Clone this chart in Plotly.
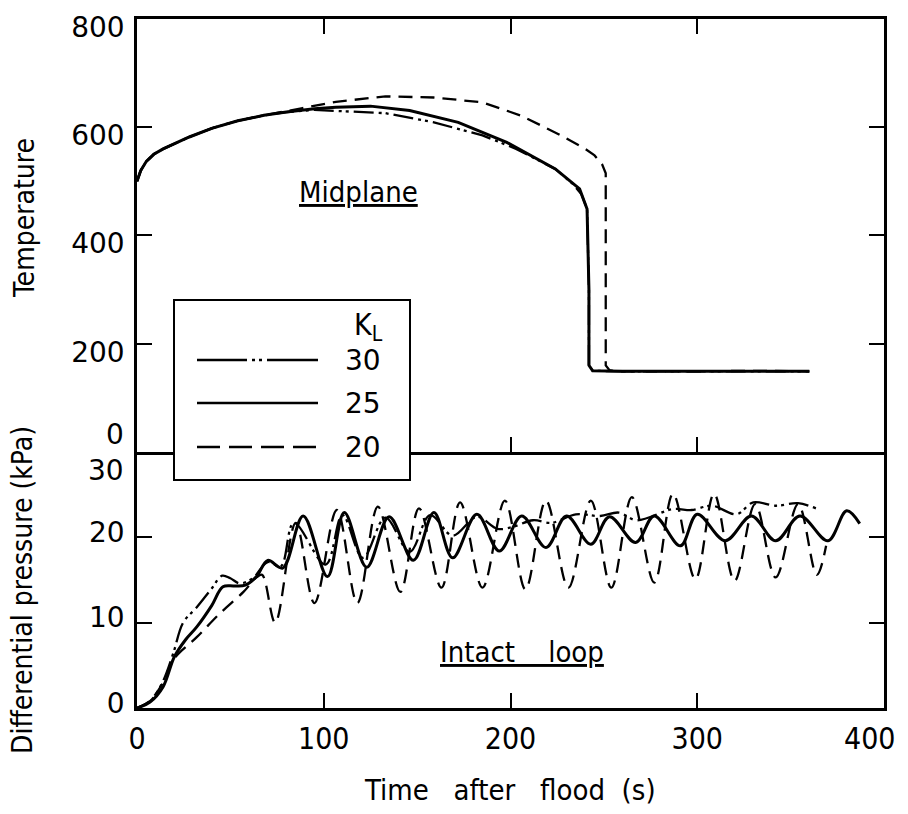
import plotly.graph_objects as go
from plotly.subplots import make_subplots

# ---- Midplane temperature after flood, per loss coefficient K_L ----
temp_t_30 = [0, 2, 5, 9, 14, 20, 28, 40, 54, 68, 80, 95, 114, 133, 159, 185, 203, 224, 233.5, 238, 241, 242, 242, 244, 260, 300, 330, 360]
temp_v_30 = [500, 520, 537, 550, 560, 569, 582, 598, 612, 622, 628, 632, 629, 626, 609, 585, 560, 523, 495, 476, 449, 300, 160, 150, 149, 149, 150, 149]

temp_t_25 = [0, 2, 5, 9, 14, 20, 28, 40, 54, 68, 80, 95, 106.5, 125, 146, 172, 198, 224, 237, 241, 242, 242, 244, 260, 300, 330, 360]
temp_v_25 = [500, 520, 537, 550, 560, 569, 582, 598, 612, 622, 628, 634, 637, 639, 631, 609, 572, 523, 486, 449, 300, 160, 150, 149, 149, 150, 149]

temp_t_20 = [0, 2, 5, 9, 14, 20, 28, 40, 54, 68, 80, 88, 106.5, 133, 159, 185, 206, 227, 240, 245, 249, 251, 251, 251, 253, 256, 300, 330, 360]
temp_v_20 = [500, 520, 537, 550, 560, 569, 582, 598, 612, 622, 629, 635, 647, 657, 655, 646, 621, 585, 560, 548, 532, 515, 300, 160, 151, 149, 149, 150, 149]

# ---- Intact-loop differential pressure (kPa), per K_L ----
dp_t_30 = [0, 7, 13.4, 19.4, 24.7, 32, 40, 45.6, 50, 55, 62, 70, 77, 84, 101, 110, 121, 133, 146, 157, 169, 182, 193, 201, 212, 222, 235, 248, 258, 267.5, 287, 297, 308, 321, 330, 342, 354, 364.6]
dp_v_30 = [0, 0.8, 2.9, 6.4, 10.0, 11.8, 14.0, 15.5, 15.2, 14.6, 15.2, 17.1, 16.6, 21.7, 16.8, 22.6, 17.6, 22.3, 18.3, 22.6, 20.2, 22.4, 21.0, 21.2, 22.0, 21.7, 22.7, 22.5, 22.9, 22.0, 23.3, 23.2, 23.7, 22.7, 24.1, 23.7, 24.0, 23.3]

dp_t_25 = [0, 7, 14, 20, 26, 32, 40, 46, 52, 58, 64, 70, 78, 89, 102, 111, 123, 135, 148, 159, 169, 182, 194, 206, 219, 230, 243, 253, 267, 277, 291, 300, 315, 329, 342, 355, 370, 380, 387]
dp_v_25 = [0, 0.7, 2.5, 6.0, 8.0, 9.5, 12.0, 14.2, 14.3, 14.4, 15.4, 17.3, 16.4, 22.5, 15.4, 22.9, 16.5, 22.4, 17.3, 22.9, 17.6, 22.7, 18.4, 22.5, 18.8, 22.5, 19.2, 22.4, 19.4, 22.5, 19.0, 22.7, 19.6, 22.5, 19.6, 22.5, 19.6, 23.1, 21.6]

dp_t_20 = [0, 4, 8, 14, 20, 32, 44.5, 57, 64, 67, 74, 85, 95, 107, 118, 129, 141, 151, 163, 173, 185, 197, 208, 219, 231, 243, 254, 265, 277, 287, 299, 309, 320, 331, 342, 354, 364, 369]
dp_v_20 = [0, 0.4, 1.1, 3.0, 5.8, 8.3, 11.1, 13.6, 15.3, 15.6, 10.0, 21.7, 12.3, 23.2, 12.3, 23.6, 13.6, 23.4, 14.1, 24.1, 14.1, 24.3, 13.9, 24.3, 14.1, 24.3, 14.1, 24.7, 14.7, 25.1, 15.1, 25.1, 14.9, 23.9, 15.3, 23.9, 15.6, 19.0]

kl_labels = ["30", "25", "20"]
temp_ticks = [200, 400, 600, 800]
dp_ticks = [0, 10, 20]
time_ticks = [0, 100, 200, 300]
time_end = 400

NARROW = "Liberation Sans Narrow, DejaVu Sans Condensed, sans-serif"
ROUND = "DejaVu Sans, sans-serif"

DASHDOT = "20px,5px,3px,4px,3px,5px"
DASHED = "14px,8px"

fig = make_subplots(rows=2, cols=1, shared_xaxes=True, vertical_spacing=0)

styles = {"30": dict(width=2.3, dash=DASHDOT), "25": dict(width=3, dash="solid"), "20": dict(width=2.3, dash=DASHED)}

temp_series = {"30": (temp_t_30, temp_v_30), "25": (temp_t_25, temp_v_25), "20": (temp_t_20, temp_v_20)}
dp_series = {"30": (dp_t_30, dp_v_30), "25": (dp_t_25, dp_v_25), "20": (dp_t_20, dp_v_20)}

for k in kl_labels:
    t, v = temp_series[k]
    fig.add_trace(go.Scatter(x=t, y=v, mode="lines", showlegend=False,
                             line=dict(color="black", **styles[k])), row=1, col=1)
for k in kl_labels:
    t, v = dp_series[k]
    fig.add_trace(go.Scatter(x=t, y=v, mode="lines", showlegend=False,
                             line=dict(color="black", shape="spline", smoothing=1.0, **styles[k])),
                  row=2, col=1)

axis_common = dict(showline=True, linecolor="black", linewidth=2.5, ticks="inside",
                   ticklen=15, tickwidth=2, tickcolor="black", showgrid=False, zeroline=False,
                   automargin=False, ticklabeloverflow="allow")

SPLIT = 0.3716
XRANGE = [0, time_end]

fig.update_layout(
    width=908, height=814,
    margin=dict(l=137, r=24, t=19, b=106),
    paper_bgcolor="white", plot_bgcolor="white",
    xaxis=dict(range=XRANGE, tickvals=[100, 200, 300], showticklabels=False,
               mirror="ticks", **axis_common),
    xaxis2=dict(range=XRANGE, tickvals=time_ticks, ticktext=[str(v) for v in time_ticks],
                mirror=False, ticklabelstandoff=2,
                tickfont=dict(family=NARROW, size=30, color="black"), **axis_common),
    yaxis=dict(range=[0, 800], domain=[SPLIT, 1], tickvals=temp_ticks,
               ticktext=[str(v) for v in temp_ticks], mirror="ticks", ticklabelstandoff=4,
               ticklabelshift=8,
               tickfont=dict(family=ROUND, size=28, color="black"), **axis_common),
    yaxis2=dict(range=[0, 30], domain=[0, SPLIT], tickvals=dp_ticks,
                ticktext=[str(v) for v in dp_ticks], mirror="ticks", ticklabelstandoff=4,
                ticklabelshift=-5,
                tickfont=dict(family=ROUND, size=28, color="black"), **axis_common),
)


def px(x):
    return (x - 137) / 747


def py(y):
    return (708 - y) / 689


def note(text, x, y, size, family=NARROW, **extra):
    return dict(text=text, x=x, y=y, xref="paper", yref="paper", xanchor="center",
                yanchor="middle", showarrow=False,
                font=dict(family=family, size=size, color="black"), **extra)


annotations = [
    # zero of the temperature scale and top of the pressure scale share the split line
    dict(text="0", x=0, y=SPLIT, xref="paper", yref="paper", xanchor="right", yanchor="middle",
         xshift=-11, yshift=17, showarrow=False, font=dict(family=ROUND, size=28, color="black")),
    dict(text="30", x=0, y=SPLIT, xref="paper", yref="paper", xanchor="right", yanchor="middle",
         xshift=-11, yshift=-19, showarrow=False, font=dict(family=ROUND, size=28, color="black")),
    # end-of-scale time label, tucked inside the right edge
    dict(text=str(time_end), x=time_end, y=py(738), xref="x2", yref="paper", xanchor="right",
         yanchor="middle", xshift=14, showarrow=False,
         font=dict(family=NARROW, size=30, color="black")),
    note("Temperature", px(24), py(218), 28, textangle=-90),
    note("Differential pressure (kPa)", px(22), py(590), 28, textangle=-90),
    note("Time\u00a0\u00a0\u00a0after\u00a0\u00a0\u00a0flood\u00a0\u00a0(s)", px(510), py(790), 29),
    note("<u>Midplane</u>", px(358), py(192), 29),
    note("<u>Intact\u00a0\u00a0\u00a0\u00a0loop</u>", px(522), py(652), 29),
    note("K<sub>L</sub>", px(368), py(326), 30),
]

shapes = [
    dict(type="rect", xref="paper", yref="paper", x0=px(174), x1=px(410), y0=py(480), y1=py(300),
         line=dict(color="black", width=2), fillcolor="white", layer="above"),
]

legend_rows = {"30": 360, "25": 403, "20": 447}
legend_dash = {"30": "50px,5px,3px,4px,3px,5px,51px,100px", "25": "solid", "20": "23px,9px"}
for k in kl_labels:
    yy = legend_rows[k]
    shapes.append(dict(type="line", xref="paper", yref="paper", x0=px(197), x1=px(318),
                       y0=py(yy), y1=py(yy), layer="above",
                       line=dict(color="black", width=2.4, dash=legend_dash[k])))
    annotations.append(note(k, px(363), py(yy), 28, family=ROUND))

fig.update_layout(annotations=annotations, shapes=shapes)

fig.write_html("out.html")
